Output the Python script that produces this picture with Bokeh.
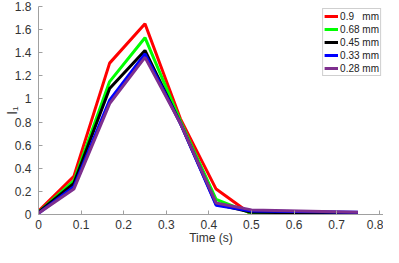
from bokeh.plotting import figure
from bokeh.models import Range1d, SingleIntervalTicker, Legend, LegendItem
from bokeh.embed import file_html
from bokeh.resources import INLINE

time_s = [0, 0.083, 0.167, 0.25, 0.333, 0.417, 0.5, 0.75]
s_090 = [0.03, 0.33, 1.31, 1.65, 0.83, 0.22, 0.0, 0.0]
s_068 = [0.02, 0.29, 1.15, 1.53, 0.81, 0.13, 0.01, 0.01]
s_045 = [0.02, 0.27, 1.09, 1.42, 0.79, 0.09, 0.02, 0.01]
s_033 = [0.01, 0.24, 0.99, 1.39, 0.79, 0.08, 0.03, 0.02]
s_028 = [0.01, 0.22, 0.96, 1.36, 0.79, 0.10, 0.04, 0.02]
labels = ["0.9\u00a0\u00a0\u00a0mm", "0.68 mm", "0.45 mm", "0.33 mm", "0.28 mm"]
colors = ["#ff0000", "#00ff00", "#000000", "#0000ff", "#7e2f8e"]
series = [s_090, s_068, s_045, s_033, s_028]

FONT = "Liberation Sans"
TXT = "#333333"
p = figure(width=383, height=247, output_backend="svg", toolbar_location=None,
           x_range=Range1d(0, 0.81), y_range=Range1d(0, 1.8),
           min_border_left=37, min_border_right=0, min_border_top=6, min_border_bottom=0)
p.outline_line_color = None
p.xgrid.visible = False
p.ygrid.visible = False

items = []
for ys, c, lab in zip(series, colors, labels):
    r = p.line(time_s, ys, line_color=c, line_width=3)
    items.append(LegendItem(label=lab, renderers=[r]))

for ax in (p.xaxis[0], p.yaxis[0]):
    ax.axis_line_color = "#a0a0a0"
    ax.major_tick_line_color = "#a0a0a0"
    ax.major_tick_in = 4
    ax.major_tick_out = 0
    ax.minor_tick_line_color = None
    ax.major_label_text_font = FONT
    ax.major_label_text_font_size = "12px"
    ax.major_label_text_color = TXT
    ax.axis_label_text_font = FONT
    ax.axis_label_text_font_style = "normal"
    ax.axis_label_text_color = TXT

p.xaxis[0].ticker = SingleIntervalTicker(interval=0.1)
p.yaxis[0].ticker = SingleIntervalTicker(interval=0.2)
p.xaxis[0].major_label_overrides = {0: "0"}
p.xaxis[0].major_label_standoff = 1
p.xaxis[0].axis_label = "Time (s)"
p.xaxis[0].axis_label_text_font_size = "12px"
p.xaxis[0].axis_label_standoff = -1
p.yaxis[0].major_label_standoff = 3
p.yaxis[0].axis_label = "I\u2081"
p.yaxis[0].axis_label_text_font_size = "14px"
p.yaxis[0].axis_label_standoff = -8

legend = Legend(items=items, location="top_right")
legend.label_text_font = FONT
legend.label_text_font_size = "10px"
legend.label_text_color = "#222222"
legend.label_height = 12
legend.glyph_height = 12
legend.glyph_width = 14
legend.label_standoff = 2
legend.spacing = 1
legend.padding = 1
legend.margin = 2
legend.border_line_color = "#a0a0a0"
legend.border_line_width = 1
legend.background_fill_alpha = 1
p.add_layout(legend)

open("out.html", "w").write(file_html(p, INLINE))
